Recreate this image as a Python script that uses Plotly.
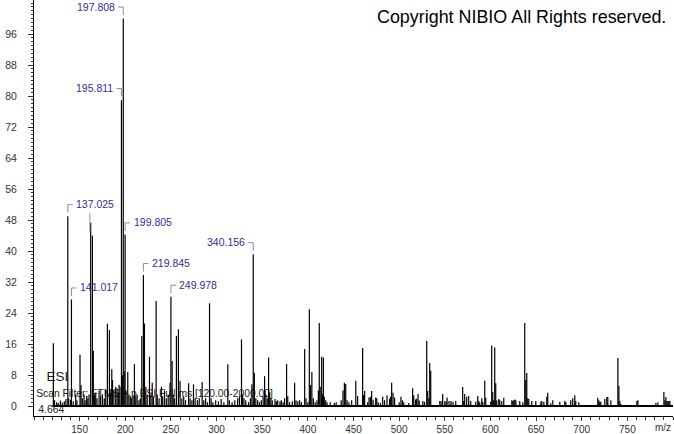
import plotly.graph_objects as go

# ---------------- data ----------------
peak_mz = [121.2, 122.5, 124.8, 126.5, 128.9, 131.0, 133.2, 135.0, 137.025, 138.0, 140.0, 141.017,
           143.0, 145.7, 147.0, 150.4, 151.5, 153.0, 154.8, 156.0, 157.7, 159.0, 160.3, 162.1, 164.0,
           165.0, 166.2, 167.6, 169.0, 171.3, 173.0, 175.0, 177.0, 178.6, 180.4, 182.6, 184.0, 185.2,
           186.0, 187.5, 189.5, 191.0, 192.3, 193.2, 194.2, 195.811, 196.8, 197.808, 198.8, 199.805,
           200.8, 202.7, 204.0, 205.5, 207.0, 208.5, 210.0, 211.5, 213.0, 215.0, 216.5, 218.1, 219.845,
           221.0, 222.5, 224.0, 226.5, 228.0, 229.5, 231.0, 233.8, 235.0, 237.0, 239.6, 241.0, 243.0,
           245.0, 247.0, 249.0, 249.978, 251.3, 252.5, 254.0, 256.0, 258.2, 260.0, 262.0, 264.0, 266.0,
           269.4, 271.0, 273.0, 274.7, 276.5, 279.0, 281.0, 284.2, 286.0, 288.0, 290.0, 292.3, 294.0,
           296.0, 299.0, 302.0, 305.0, 308.0, 312.3, 314.0, 317.0, 320.0, 323.0, 325.0, 327.3, 328.5,
           330.0, 332.0, 335.0, 337.0, 338.7, 340.156, 341.4, 343.0, 345.0, 347.0, 349.0, 351.0, 352.6,
           354.0, 355.5, 357.0, 358.2, 359.5, 361.0, 364.0, 365.5, 367.0, 369.5, 371.0, 373.0, 374.5,
           376.7, 378.0, 380.0, 383.0, 385.5, 387.0, 389.0, 391.0, 393.0, 396.5, 398.0, 400.0, 401.6,
           403.0, 404.4, 406.0, 408.0, 410.0, 411.5, 412.5, 413.5, 415.1, 416.0, 417.0, 418.0, 419.5,
           421.0, 424.5, 429.0, 431.0, 436.5, 438.5, 440.0, 441.5, 443.0, 445.0, 448.0, 452.5, 454.5,
           460.0, 461.0, 462.2, 465.5, 467.0, 468.5, 469.9, 471.5, 474.3, 475.5, 477.0, 479.5, 482.0,
           484.0, 486.7, 489.5, 490.5, 491.8, 493.3, 495.0, 500.0, 502.0, 503.5, 505.0, 510.5, 514.8,
           516.0, 518.0, 519.2, 520.7, 522.0, 526.0, 527.8, 530.2, 531.3, 532.6, 533.5, 534.6, 544.5,
           546.0, 547.7, 550.0, 551.5, 552.5, 554.6, 556.8, 559.0, 562.0, 569.6, 570.7, 571.8, 574.0,
           576.2, 578.4, 583.9, 586.1, 587.2, 588.3, 590.5, 591.6, 593.8, 594.9, 600.3, 601.4, 602.5,
           603.6, 604.7, 605.8, 606.9, 609.1, 610.2, 612.4, 614.6, 623.4, 624.5, 625.6, 626.7, 627.8,
           632.1, 635.4, 637.6, 638.7, 639.8, 640.9, 642.0, 645.3, 649.7, 655.2, 656.3, 658.5, 661.7,
           662.8, 666.1, 668.3, 676.0, 681.5, 682.6, 688.0, 690.2, 692.4, 693.5, 696.8, 717.6, 718.7,
           719.8, 720.9, 725.3, 727.5, 728.6, 731.9, 739.6, 740.7, 741.8, 742.9, 760.4, 761.5, 781.2,
           783.4, 790.0, 791.1, 792.2, 793.3, 794.4, 795.5, 796.6]
peak_int = [16.2, 1.5, 1.0, 0.8, 1.4, 0.9, 1.2, 1.8, 49.0, 2.0, 1.6, 27.5,
            1.2, 3.0, 1.5, 13.2, 5.4, 2.0, 3.0, 1.5, 2.5, 2.0, 3.0, 47.3, 44.0,
            14.2, 3.0, 3.5, 2.0, 4.0, 2.5, 3.0, 2.0, 4.0, 21.2, 19.6, 3.5, 9.5,
            6.7, 4.0, 5.0, 4.5, 3.5, 5.5, 5.0, 79.0, 8.0, 100.0, 9.0, 44.3,
            4.0, 8.8, 3.0, 2.5, 2.0, 2.5, 10.8, 2.5, 3.0, 1.5, 2.0, 18.1, 33.8,
            21.3, 5.0, 3.0, 12.7, 3.0, 6.0, 2.5, 27.1, 3.0, 2.0, 5.0, 2.5, 4.0,
            2.0, 3.0, 6.0, 28.2, 11.6, 3.0, 2.0, 18.1, 19.8, 6.5, 2.0, 2.5, 1.5,
            5.9, 2.0, 1.5, 5.6, 2.0, 1.5, 2.0, 6.2, 1.5, 2.0, 1.0, 26.5, 2.0,
            1.0, 1.5, 1.2, 1.8, 1.0, 10.8, 1.5, 1.0, 1.5, 2.0, 2.5, 17.2, 3.0,
            2.0, 1.5, 1.0, 2.0, 5.6, 39.2, 8.6, 2.0, 1.5, 1.0, 1.5, 2.5, 7.7,
            3.0, 2.0, 12.5, 3.5, 2.0, 1.5, 1.8, 1.2, 1.5, 1.2, 1.5, 1.0, 2.0,
            10.8, 2.5, 1.0, 1.2, 6.0, 1.5, 1.2, 1.5, 1.0, 14.7, 2.0, 1.0, 25.0,
            5.4, 8.8, 2.0, 1.0, 1.5, 4.0, 21.4, 5.0, 12.7, 3.0, 12.5, 2.4, 1.5,
            1.0, 1.0, 0.8, 1.0, 1.5, 4.0, 6.0, 5.7, 1.5, 1.0, 1.5, 6.5, 2.6,
            15.0, 2.8, 3.9, 1.0, 2.2, 2.4, 3.9, 1.6, 2.2, 2.0, 1.0, 0.8, 2.4,
            1.5, 2.8, 1.8, 2.4, 6.0, 3.4, 2.2, 1.0, 2.4, 1.5, 1.0, 0.8, 4.6,
            2.8, 1.7, 1.9, 3.1, 1.4, 1.3, 1.1, 16.8, 3.9, 2.0, 11.1, 9.1, 1.3,
            1.3, 3.1, 1.3, 1.1, 2.2, 1.3, 1.3, 1.1, 1.3, 4.9, 1.3, 3.1, 2.4,
            2.6, 1.3, 1.1, 2.6, 1.3, 0.9, 2.0, 1.1, 6.5, 2.1, 1.1, 15.6, 3.6,
            1.5, 15.1, 5.9, 1.5, 1.8, 1.5, 1.3, 2.1, 1.5, 1.3, 1.5, 1.7, 1.5,
            1.3, 1.0, 21.4, 6.7, 8.5, 2.0, 1.8, 1.3, 1.3, 1.1, 1.3, 1.1, 2.4,
            3.4, 0.7, 1.5, 1.1, 1.3, 1.0, 1.5, 2.0, 2.8, 1.3, 1.0, 2.1, 1.5,
            1.1, 1.1, 1.8, 2.3, 2.3, 1.5, 12.4, 5.2, 1.3, 0.5, 1.3, 1.5, 0.8,
            1.0, 3.6, 1.5, 2.3, 1.3, 1.3, 1.3, 1.3]

label_mz = [197.808, 195.811, 137.025, 141.017, 199.805, 219.845, 249.978, 340.156]
label_text = ["197.808", "195.811", "137.025", "141.017", "199.805", "219.845", "249.978", "340.156"]
label_side = ["left", "left", "right", "right", "right", "right", "right", "left"]
hidden_label_mz = [161.2]

x_tick_vals = [150, 200, 250, 300, 350, 400, 450, 500, 550, 600, 650, 700, 750]
y_tick_vals = [0, 8, 16, 24, 32, 40, 48, 56, 64, 72, 80, 88, 96]

copyright_text = "Copyright NIBIO All Rights reserved."
info_text = ["ESI", "Scan Filter: FTMS + p ESI Full ms [120.00-2000.00]", "4.664"]
x_unit = "m/z"
scan_start = 120.0

# ---------------- geometry ----------------
W, H = 674, 434
ML, MR, MT, MB = 34, 1, 0, 18
X0, X1 = 100, 800
Y0, Y1 = -2.58, 104.8
xpu = (W - ML - MR) / (X1 - X0)
ypu = (H - MT - MB) / (Y1 - Y0)

FONT = "Liberation Sans, Arial, sans-serif"
LBL_BLUE = "#2f2f9c"
BRACKET = "#8a8ab0"

# spectrum sticks
sx, sy = [], []
for m, v in zip(peak_mz, peak_int):
    sx += [m, m, None]
    sy += [0, v, None]

fig = go.Figure()

# text drawn beneath the sticks
fig.add_trace(go.Scatter(
    x=[X0 + 12.5 / xpu, X0 + 2.2 / xpu, X0 + 4.3 / xpu],
    y=[7.4, 3.0, -1.1],
    text=info_text, mode="text", textposition="middle right",
    textfont=dict(family=FONT, size=[13.5, 10.3, 10.4], color=["#222", "#222", "#222"]),
    hoverinfo="skip", showlegend=False, cliponaxis=False))

# baseline
fig.add_trace(go.Scatter(x=[scan_start, X1], y=[0, 0], mode="lines",
                         line=dict(color="black", width=2), hoverinfo="skip", showlegend=False))

fig.add_trace(go.Scatter(x=sx, y=sy, mode="lines", line=dict(color="black", width=1.2),
                         hoverinfo="skip", showlegend=False))

# labels with brackets
lookup = dict(zip(peak_mz, peak_int))
for m, t, side in zip(label_mz, label_text, label_side):
    h = lookup[m]
    lvl = h + 11.5 / ypu
    bot = h + 3.5 / ypu
    sgn = -1 if side == "left" else 1
    xe = m + sgn * 5 / xpu
    fig.add_shape(type="path", xref="x", yref="y",
                  path=f"M {xe} {lvl} L {m} {lvl} L {m} {bot}",
                  line=dict(color=BRACKET, width=1))
    fig.add_annotation(x=m + sgn * 6.5 / xpu, y=lvl + 0.6 / ypu, xref="x", yref="y", text=t,
                       showarrow=False, xanchor="right" if side == "left" else "left",
                       yanchor="middle", font=dict(family=FONT, size=10.5, color=LBL_BLUE))
for m in hidden_label_mz:
    fig.add_shape(type="line", xref="x", yref="y", x0=m, x1=m, y0=44.9, y1=49.8,
                  line=dict(color=BRACKET, width=1))

fig.add_annotation(x=1, y=1, xref="paper", yref="paper", xshift=-5, yshift=-5,
                   text=copyright_text, showarrow=False, xanchor="right", yanchor="top",
                   font=dict(family=FONT, size=17.9, color="black"))
fig.add_annotation(x=(663 - ML) / (W - ML - MR), y=0, xref="paper", yref="paper", yshift=-11,
                   text=x_unit, showarrow=False, xanchor="center", yanchor="middle",
                   font=dict(family=FONT, size=10, color="#333"))

fig.update_layout(
    width=W, height=H, margin=dict(l=ML, r=MR, t=MT, b=MB, pad=0, autoexpand=False),
    paper_bgcolor="white", plot_bgcolor="white", showlegend=False,
    xaxis=dict(range=[X0, X1], tickmode="array", tickvals=x_tick_vals, ticks="outside",
               ticklen=3.5, tickcolor="#333", showgrid=False, zeroline=False, automargin=False,
               showline=True, linecolor="black", linewidth=1,
               tickfont=dict(family=FONT, size=10, color="#333"),
               minor=dict(tickmode="array", tickvals=list(range(100, 801, 10)), ticks="outside",
                          ticklen=2.5, tickcolor="#333", showgrid=False)),
    yaxis=dict(range=[Y0, Y1], tickmode="array", tickvals=y_tick_vals, ticks="outside",
               ticklen=5, tickcolor="#333", showgrid=False, zeroline=False, automargin=False,
               showline=True, linecolor="black", linewidth=1, ticklabelstandoff=9,
               tickfont=dict(family=FONT, size=10.5, color="#333"),
               minor=dict(tickmode="array", tickvals=list(range(0, 105, 1)), ticks="outside",
                          ticklen=2.5, tickcolor="#333", showgrid=False)),
)

fig.write_html("out.html", config={"displayModeBar": False},
               post_script="document.body.style.margin='0';document.body.style.padding='0';")
